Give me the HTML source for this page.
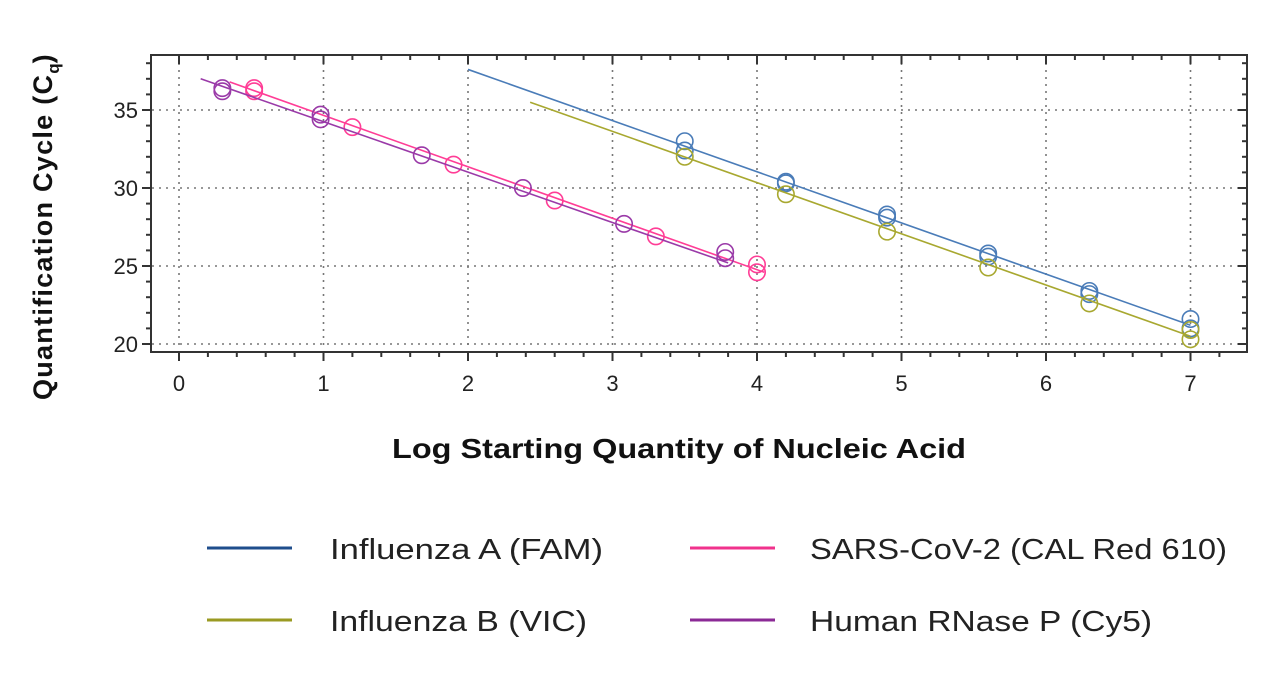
<!DOCTYPE html>
<html><head><meta charset="utf-8"><style>
body{margin:0;background:#fff;width:1280px;height:673px;overflow:hidden}
text{font-family:"Liberation Sans",sans-serif}
</style></head><body>
<svg width="1280" height="673" xmlns="http://www.w3.org/2000/svg">
<g stroke="#777" stroke-width="1.6" stroke-dasharray="2,5">
<line x1="179" y1="56" x2="179" y2="350"/><line x1="323.5" y1="56" x2="323.5" y2="350"/><line x1="468" y1="56" x2="468" y2="350"/><line x1="612.5" y1="56" x2="612.5" y2="350"/><line x1="757" y1="56" x2="757" y2="350"/><line x1="901.5" y1="56" x2="901.5" y2="350"/><line x1="1046" y1="56" x2="1046" y2="350"/><line x1="1190.5" y1="56" x2="1190.5" y2="350"/>
<line x1="152" y1="110" x2="1246" y2="110"/><line x1="152" y1="188" x2="1246" y2="188"/><line x1="152" y1="266" x2="1246" y2="266"/><line x1="152" y1="344" x2="1246" y2="344"/>
</g>
<rect x="151" y="55" width="1096" height="297" fill="none" stroke="#333" stroke-width="2"/>
<g id="ticks" stroke="#333" stroke-width="2"></g>
<g font-size="22" fill="#222" text-anchor="end">
<text x="138" y="118">35</text><text x="138" y="196">30</text><text x="138" y="274">25</text><text x="138" y="352">20</text>
</g>
<g font-size="22" fill="#222" text-anchor="middle">
<text x="179" y="391">0</text><text x="323.5" y="391">1</text><text x="468" y="391">2</text><text x="612.5" y="391">3</text><text x="757" y="391">4</text><text x="901.5" y="391">5</text><text x="1046" y="391">6</text><text x="1190.5" y="391">7</text>
</g>
<text transform="translate(52,400) rotate(-90)" font-size="27" font-weight="bold" fill="#111"><tspan textLength="325" lengthAdjust="spacing">Quantification Cycle (C</tspan><tspan font-size="17" dy="7">q</tspan><tspan dy="-7">)</tspan></text>
<text x="392" y="458" font-size="28" fill="#111" font-weight="bold" textLength="574" lengthAdjust="spacingAndGlyphs">Log Starting Quantity of Nucleic Acid</text>
<g id="data" fill="none" stroke-width="1.6"></g>
<g stroke-width="3">
<line x1="207" y1="548" x2="292" y2="548" stroke="#1f4e8c"/>
<line x1="207" y1="620" x2="292" y2="620" stroke="#9a9a22"/>
<line x1="690" y1="548" x2="775" y2="548" stroke="#f0328c"/>
<line x1="690" y1="620" x2="775" y2="620" stroke="#8b2a96"/>
</g>
<g font-size="29" fill="#222">
<text x="330" y="559" textLength="273" lengthAdjust="spacingAndGlyphs">Influenza A (FAM)</text>
<text x="330" y="631" textLength="257" lengthAdjust="spacingAndGlyphs">Influenza B (VIC)</text>
<text x="810" y="559" textLength="417" lengthAdjust="spacingAndGlyphs">SARS-CoV-2 (CAL Red 610)</text>
<text x="810" y="631" textLength="342" lengthAdjust="spacingAndGlyphs">Human RNase P (Cy5)</text>
</g>
</svg>
<script>
var ns="http://www.w3.org/2000/svg";
function X(v){return 179+144.5*v}function Y(c){return 110+(35-c)*15.6}
var t=document.getElementById("ticks");
function ln(g,a,b,c,d,s,w){var l=document.createElementNS(ns,"line");l.setAttribute("x1",a);l.setAttribute("y1",b);l.setAttribute("x2",c);l.setAttribute("y2",d);if(s)l.setAttribute("stroke",s);if(w)l.setAttribute("stroke-width",w);g.appendChild(l);}
for(var i=-1;i<=38;i++){var v=i*0.2,x=X(v);if(x<152||x>1246)continue;var L=(i%5==0)?9:5;ln(t,x,352,x,352+L);ln(t,x,55,x,55+L);}
for(var c=18;c<=38;c++){var y=Y(c);if(y<56||y>351)continue;var L=(c%5==0)?9:5;ln(t,151-L,y,151,y);ln(t,1247-L,y,1247,y);}
var d=document.getElementById("data");
var S=[
["#4a7cb8",[2,37.6,7,21.2],[[3.5,33.0],[3.5,32.4],[4.2,30.4],[4.2,30.3],[4.9,28.3],[4.9,28.1],[5.6,25.8],[5.6,25.6],[6.3,23.4],[6.3,23.2],[7,21.6],[7,21.0]]],
["#a8a830",[2.43,35.5,7,20.5],[[3.5,32.0],[4.2,29.6],[4.9,27.2],[5.6,24.9],[6.3,22.6],[7,20.9],[7,20.3]]],
["#ff3d96",[0.35,36.8,4.05,24.6],[[0.52,36.2],[0.52,36.4],[1.2,33.9],[1.9,31.5],[2.6,29.2],[3.3,26.9],[4.0,25.1],[4.0,24.6]]],
["#9a3aa8",[0.15,37.0,3.8,25.2],[[0.3,36.4],[0.3,36.2],[0.98,34.7],[0.98,34.4],[1.68,32.1],[2.38,30.0],[3.08,27.7],[3.78,25.9],[3.78,25.5]]]
];
S.forEach(function(s){var l=s[1];ln(d,X(l[0]),Y(l[1]),X(l[2]),Y(l[3]),s[0],1.6);
s[2].forEach(function(p){var c=document.createElementNS(ns,"circle");c.setAttribute("cx",X(p[0]));c.setAttribute("cy",Y(p[1]));c.setAttribute("r",8.2);c.setAttribute("stroke",s[0]);d.appendChild(c);});});
</script>
</body></html>
